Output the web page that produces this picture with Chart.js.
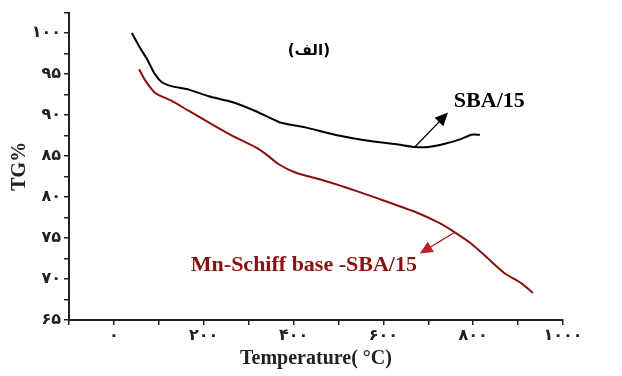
<!DOCTYPE html>
<html>
<head>
<meta charset="utf-8">
<script src="https://cdn.jsdelivr.net/npm/chart.js@4.4.0/dist/chart.umd.min.js"></script>
<style>
  html, body { margin: 0; padding: 0; background: #fff; }
  #wrap { width: 622px; height: 376px; }
</style>
</head>
<body>
<div id="wrap"><canvas id="tgChart"></canvas></div>
<script>
// SBA/15 curve: temperature (°C) and TG (%)
const sbaTemp = [40, 56, 74, 89, 107, 130, 167, 211, 263, 315, 370, 426, 500, 574, 633, 670, 700, 737, 774, 796, 815];
const sbaTG   = [100, 98.4, 96.8, 95.2, 94.0, 93.5, 93.1, 92.3, 91.6, 90.5, 89.1, 88.5, 87.5, 86.8, 86.4, 86.1, 86.1, 86.5, 87.1, 87.6, 87.6];

// Mn-Schiff base-SBA/15 curve
const mnTemp = [56, 70, 92, 130, 167, 211, 263, 315, 337, 367, 404, 456, 515, 589, 670, 722, 759, 796, 833, 870, 907, 933];
const mnTG   = [95.6, 94.2, 92.7, 91.7, 90.5, 89.1, 87.5, 86.1, 85.3, 84.0, 83.0, 82.2, 81.2, 79.8, 78.2, 76.9, 75.7, 74.3, 72.5, 70.7, 69.5, 68.3];

// axis ranges
const xRange = [-100, 1000];
const yRange = [65, 102.5];

// annotation anchors in data units: [from T, from TG, to T, to TG]
const sbaArrow = [670, 86.1, 744, 90.3];
const mnArrow = [759, 75.7, 681, 73.1];
const sbaLabel = ['SBA/15', 757, 91.7];
const mnLabel = ['Mn-Schiff base -SBA/15', 423, 71.7];
const panelLabel = ['(الف)', 434, 97.8];

const black = '#000000';
const darkRed = '#8b1010';

// persian digits for the tick labels
const fa = (n) => String(n).replace(/\d/g, (d) => '۰۱۲۳۴۵۶۷۸۹'[d]);

const toPoints = (xs, ys) => xs.map((v, i) => ({ x: v, y: ys[i] }));

const drawArrow = (ctx, x0, y0, x1, y1, color, head) => {
  const ang = Math.atan2(y1 - y0, x1 - x0);
  ctx.save();
  ctx.strokeStyle = color;
  ctx.lineWidth = 1.3;
  ctx.beginPath();
  ctx.moveTo(x0, y0);
  ctx.lineTo(x1 - Math.cos(ang) * 8, y1 - Math.sin(ang) * 8);
  ctx.stroke();
  ctx.fillStyle = head;
  ctx.beginPath();
  ctx.moveTo(x1, y1);
  ctx.lineTo(x1 - Math.cos(ang) * 13 + Math.sin(ang) * 6, y1 - Math.sin(ang) * 13 - Math.cos(ang) * 6);
  ctx.lineTo(x1 - Math.cos(ang) * 13 - Math.sin(ang) * 6, y1 - Math.sin(ang) * 13 + Math.cos(ang) * 6);
  ctx.closePath();
  ctx.fill();
  ctx.restore();
};

// draws the curve labels, arrows and the panel letter
const notes = {
  id: 'notes',
  afterDatasetsDraw(chart) {
    const { ctx, scales: { x, y } } = chart;
    drawArrow(ctx, x.getPixelForValue(sbaArrow[0]), y.getPixelForValue(sbaArrow[1]),
      x.getPixelForValue(sbaArrow[2]), y.getPixelForValue(sbaArrow[3]), black, black);
    drawArrow(ctx, x.getPixelForValue(mnArrow[0]), y.getPixelForValue(mnArrow[1]),
      x.getPixelForValue(mnArrow[2]), y.getPixelForValue(mnArrow[3]), '#a01818', '#c0202a');

    ctx.save();
    ctx.textBaseline = 'middle';
    ctx.font = 'bold 22px "Liberation Serif"';
    ctx.fillStyle = black;
    ctx.textAlign = 'left';
    ctx.fillText(sbaLabel[0], x.getPixelForValue(sbaLabel[1]), y.getPixelForValue(sbaLabel[2]));
    ctx.fillStyle = darkRed;
    ctx.textAlign = 'center';
    ctx.fillText(mnLabel[0], x.getPixelForValue(mnLabel[1]), y.getPixelForValue(mnLabel[2]));
    ctx.fillStyle = black;
    ctx.font = 'bold 15px "DejaVu Sans"';
    ctx.fillText(panelLabel[0], x.getPixelForValue(panelLabel[1]), y.getPixelForValue(panelLabel[2]));
    ctx.restore();
  },
};

const axisColor = '#222';
const tickFont = { family: '"DejaVu Sans"', size: 16, weight: 'bold' };
const titleFont = { family: '"Liberation Serif"', size: 20, weight: 'bold' };

const config = {
  type: 'scatter',
  data: {
    datasets: [
      {
        label: 'SBA/15',
        data: toPoints(sbaTemp, sbaTG),
        showLine: true,
        borderColor: black,
        borderWidth: 2,
        pointRadius: 0,
        tension: 0.2,
      },
      {
        label: 'Mn-Schiff base -SBA/15',
        data: toPoints(mnTemp, mnTG),
        showLine: true,
        borderColor: darkRed,
        borderWidth: 2,
        pointRadius: 0,
        tension: 0.2,
      },
    ],
  },
  options: {
    responsive: true,
    maintainAspectRatio: false,
    animation: false,
    layout: { padding: { top: 11, right: 59, left: 0, bottom: 0 } },
    plugins: {
      legend: { display: false },
      tooltip: { enabled: false },
    },
    scales: {
      x: {
        type: 'linear',
        min: xRange[0],
        max: xRange[1],
        afterFit: (scale) => { scale.height = 56; },
        ticks: {
          stepSize: 100,
          autoSkip: false,
          maxRotation: 0,
          padding: 1,
          color: axisColor,
          font: tickFont,
          callback: (v) => (v % 200 === 0 ? fa(v) : ''),
        },
        grid: { drawOnChartArea: false, tickLength: 5, color: axisColor, lineWidth: 1.5 },
        border: { color: axisColor, width: 2 },
        title: {
          display: true,
          text: 'Temperature( °C)',
          color: axisColor,
          font: titleFont,
          padding: { top: 0, bottom: 5 },
        },
      },
      y: {
        min: yRange[0],
        max: yRange[1],
        afterFit: (scale) => { scale.width = 69; },
        ticks: {
          stepSize: 2.5,
          autoSkip: false,
          padding: 3,
          color: axisColor,
          font: tickFont,
          callback: (v) => (v % 5 === 0 ? fa(v) : ''),
        },
        grid: { drawOnChartArea: false, tickLength: 5, color: axisColor, lineWidth: 1.5 },
        border: { color: axisColor, width: 2 },
        title: {
          display: true,
          text: 'TG%',
          color: axisColor,
          font: titleFont,
          padding: { top: 8, bottom: 0 },
        },
      },
    },
  },
  plugins: [notes],
};

const tgChart = new Chart(document.getElementById('tgChart'), config);
</script>
</body>
</html>
